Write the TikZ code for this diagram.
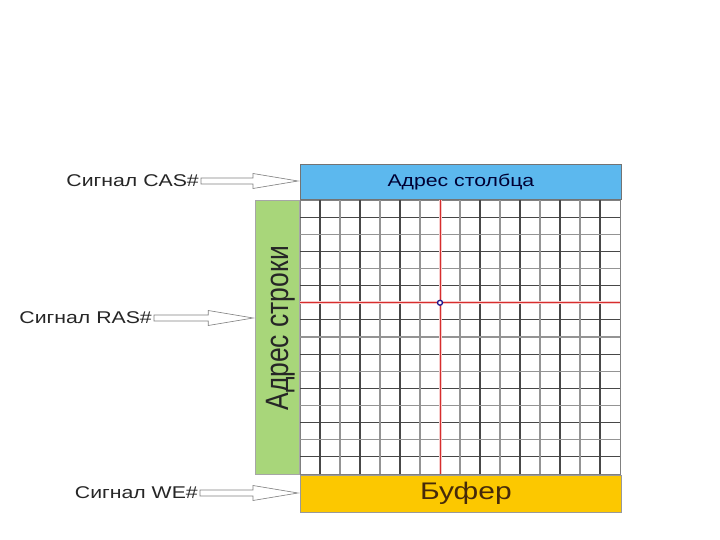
\documentclass[tikz,border=0pt]{standalone}
\usepackage{fontspec}
\setmainfont{Liberation Sans}
\newfontfamily\widefont[FakeStretch=1.25]{Liberation Sans}
\usetikzlibrary{positioning, calc}
\definecolor{casblue}{RGB}{92,184,238}
\definecolor{rasgreen}{RGB}{168,214,122}
\definecolor{bufyellow}{RGB}{252,200,0}
\definecolor{gridred}{RGB}{215,45,45}
\definecolor{cellblue}{RGB}{30,20,140}
\definecolor{bufbrown}{RGB}{70,42,10}

\begin{document}
\begin{tikzpicture}[x=1pt, y=-1pt,
    block/.style={draw=black!55, line width=0.8pt, inner sep=0pt},
    sig/.style={font=\widefont\fontsize{17}{19}\selectfont, text=black!85, inner sep=0pt},
    sigarrow/.style={draw=black!50, fill=white, line width=0.6pt},
    darkline/.style={draw=black!72, line width=1.2pt},
    greyline/.style={draw=black!42, line width=1.2pt},
]
\fill[white] (0,0) rectangle (720,540);
\useasboundingbox (0,0) rectangle (720,540);

% memory cell array, 16 x 16
\node[draw=black!50, line width=1pt, minimum width=320pt, minimum height=274pt, inner sep=0pt, anchor=north west] (cells) at (300,200) {};
\foreach \i in {1,3,...,15} {
  \draw[darkline] (300+20*\i,200) -- (300+20*\i,474);
  \draw[darkline] (300,200+17.125*\i) -- (620,200+17.125*\i);
}
\foreach \i in {2,4,...,14} {
  \draw[greyline] (300+20*\i,200) -- (300+20*\i,474);
  \draw[greyline] (300,200+17.125*\i) -- (620,200+17.125*\i);
}

% selected row and column
\draw[gridred!25, line width=3pt] (440,200) -- (440,474);
\draw[gridred!25, line width=3pt] (300,302.75) -- (620,302.75);
\draw[gridred, line width=0.9pt] (440,200) -- (440,474);
\draw[gridred, line width=0.9pt] (300,302.75) -- (620,302.75);
\node[circle, draw=cellblue, fill=white, line width=1.3pt, inner sep=0pt, minimum size=5pt] (cell) at (440,302.75) {};

% address blocks and buffer
\node[block, fill=casblue, minimum width=321pt, minimum height=35pt, anchor=south west] (col) at (cells.north west) {};
\node[font=\widefont\fontsize{17}{19}\selectfont, text=black!80!blue] at (col.center) {Адрес столбца};
\node[block, draw=black!35, fill=rasgreen, minimum width=44pt, minimum height=274pt, anchor=north east] (rowaddr) at (cells.north west) {};
\node[rotate=90, font=\fontsize{26.5}{28}\selectfont, text=black!85] at ($(rowaddr.center)+(3,-9)$) {\scalebox{1}[1.22]{Адрес строки}};
\node[block, draw=black!40, fill=bufyellow, minimum width=321pt, minimum height=37pt, anchor=north west] (buf) at (cells.south west) {};
\node[font=\widefont\fontsize{24}{26}\selectfont, text=bufbrown] at ($(buf.center)+(5,-1)$) {Буфер};

% control signals
\node[sig, anchor=east] (cas) at (199,181) {Сигнал CAS\#};
\node[sig, anchor=east] (ras) at (152,318) {Сигнал RAS\#};
\node[sig, anchor=east] (we) at (198,493) {Сигнал WE\#};

\foreach \s/\b in {cas/col, ras/rowaddr, we/buf}
  \draw[sigarrow] let \p1=(\s.east), \p2=(\b.west) in
    (\x1+2pt,\y1-3pt) -- (\x2-47pt,\y1-3pt) -- (\x2-47pt,\y1-7.5pt) -- (\x2-2pt,\y1)
    -- (\x2-47pt,\y1+7.5pt) -- (\x2-47pt,\y1+3pt) -- (\x1+2pt,\y1+3pt) -- cycle;

\end{tikzpicture}
\end{document}
